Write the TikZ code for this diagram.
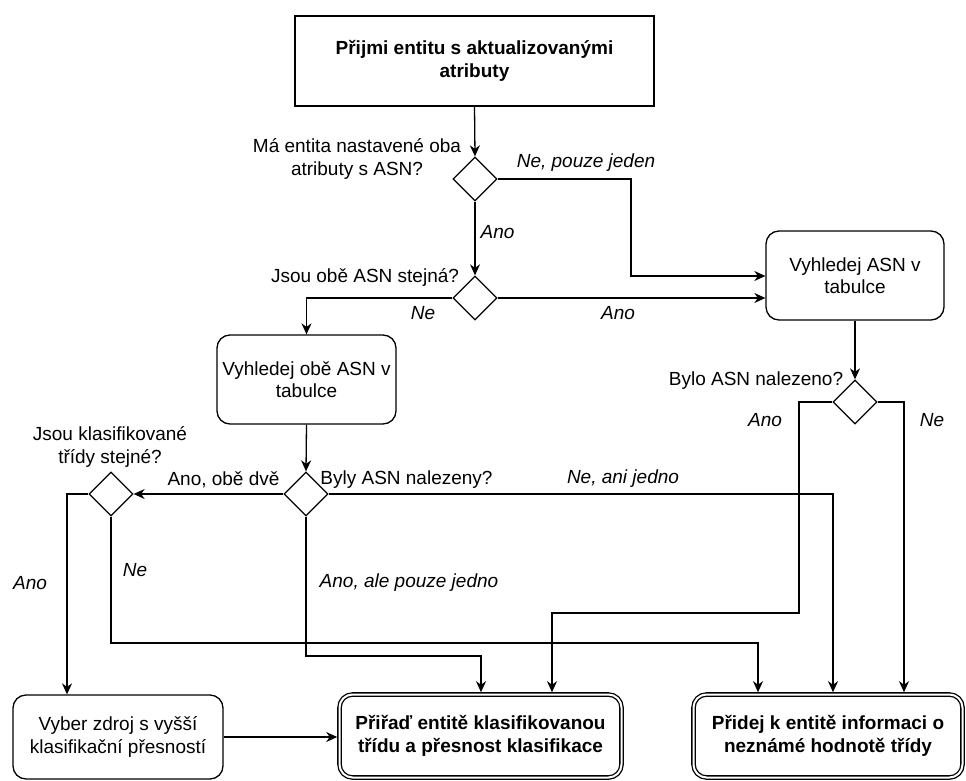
\documentclass[tikz,border=0pt]{standalone}
\usepackage{fontspec}
\setmainfont{Liberation Sans}
\usetikzlibrary{arrows.meta,shapes.geometric}
\begin{document}
\begin{tikzpicture}[x=1pt,y=-1pt, line width=1.3pt,
 font=\fontsize{19}{22.5}\selectfont,
 arr/.style={-{Stealth[length=11pt,width=10pt,inset=3.5pt]}},
 box/.style={draw, rectangle, inner sep=0pt, align=center},
 rbox/.style={box, rounded corners=13pt},
 dbox/.style={rbox, double, double distance=2pt, outer sep=2.3pt, font=\fontsize{19}{22.5}\selectfont\bfseries},
 dec/.style={draw, diamond, minimum width=44pt, minimum height=44pt, inner sep=0pt},
 lbl/.style={inner sep=0pt, align=center},
 ilbl/.style={lbl, font=\fontsize{19}{22.5}\selectfont\itshape}]
\useasboundingbox (0,0) rectangle (966,781);
% nodes
\node[box, minimum width=359pt, minimum height=90pt, font=\fontsize{19}{22.5}\selectfont\bfseries] (top) at (474.5,61) {Přijmi entitu s aktualizovanými\\atributy};
\node[dec] (d1) at (475,179) {};
\node[dec] (d2) at (475,298) {};
\node[rbox, minimum width=178pt, minimum height=89pt] (vasn) at (855,275.5) {Vyhledej ASN v\\tabulce};
\node[rbox, minimum width=179pt, minimum height=89pt] (vobe) at (306.5,379.5) {Vyhledej obě ASN v\\tabulce};
\node[dec] (d3) at (306,494) {};
\node[dec] (d4) at (111,494) {};
\node[dec] (d5) at (855,402) {};
\node[rbox, minimum width=210pt, minimum height=84pt] (vyber) at (118,737) {Vyber zdroj s vyšší\\klasifikační přesností};
\node[dbox, minimum width=282pt, minimum height=83pt] (prirad) at (480.5,736) {Přiřaď entitě klasifikovanou\\třídu a přesnost klasifikace};
\node[dbox, minimum width=269pt, minimum height=83pt] (pridej) at (828,736) {Přidej k entitě informaci o\\neznámé hodnotě třídy};
% bend coordinates
\coordinate (k1) at (631,276);
\coordinate (k4) at (67,494);
\coordinate (k10) at (758,643);
\coordinate (k11) at (481,656);
\coordinate (k12) at (833,494);
\coordinate (k13a) at (799,402);
\coordinate (k13b) at (552,613);
\coordinate (k14) at (904,402);
% connectors
\draw[arr] (top.south) -- (d1.north);
\draw[arr] (d1.east) -| (k1) -- (k1 -| vasn.west);
\draw[arr] (d1.south) -- (d2.north);
\draw[arr] (d2.east) -- (d2.east -| vasn.west);
\draw[arr] (d2.west) -| (vobe.north);
\draw[arr] (vasn.south) -- (d5.north);
\draw[arr] (vobe.south) -- (d3.north);
\draw[arr] (d3.west) -- (d4.east);
\draw[arr] (d4.west) -- (k4) -- (k4 |- vyber.north);
\draw[arr] (d4.south) |- (k10) -- (k10 |- pridej.north);
\draw[arr] (d3.south) |- (k11) -- (k11 |- prirad.north);
\draw[arr] (d3.east) -- (k12) -- (k12 |- pridej.north);
\draw[arr] (d5.west) -- (k13a) |- (k13b) -- (k13b |- prirad.north);
\draw[arr] (d5.east) -- (k14) -- (k14 |- pridej.north);
\draw[arr] (vyber.east) -- (vyber.east -| prirad.west);
% labels
\node[lbl] (l1) at (357,159) {Má entita nastavené oba\\atributy s ASN?};
\node[ilbl] (l2) at (586,163) {Ne, pouze jeden};
\node[ilbl, anchor=west] (l3) at (480,232) {Ano};
\node[lbl] (l4) at (365,277) {Jsou obě ASN stejná?};
\node[ilbl] (l5) at (423,313) {Ne};
\node[ilbl] (l6) at (618,313) {Ano};
\node[lbl] (l7) at (756,381) {Bylo ASN nalezeno?};
\node[ilbl] (l8) at (765,420) {Ano};
\node[ilbl] (l9) at (932,420) {Ne};
\node[lbl] (l10) at (406.5,480) {Byly ASN nalezeny?};
\node[lbl] (l11) at (223.5,480) {Ano, obě dvě};
\node[lbl] (l12) at (110,447) {Jsou klasifikované\\třídy stejné?};
\node[ilbl] (l13) at (623,479) {Ne, ani jedno};
\node[ilbl] (l14) at (30,583) {Ano};
\node[ilbl] (l15) at (135,570) {Ne};
\node[ilbl] (l16) at (409,583) {Ano, ale pouze jedno};
\end{tikzpicture}
\end{document}
